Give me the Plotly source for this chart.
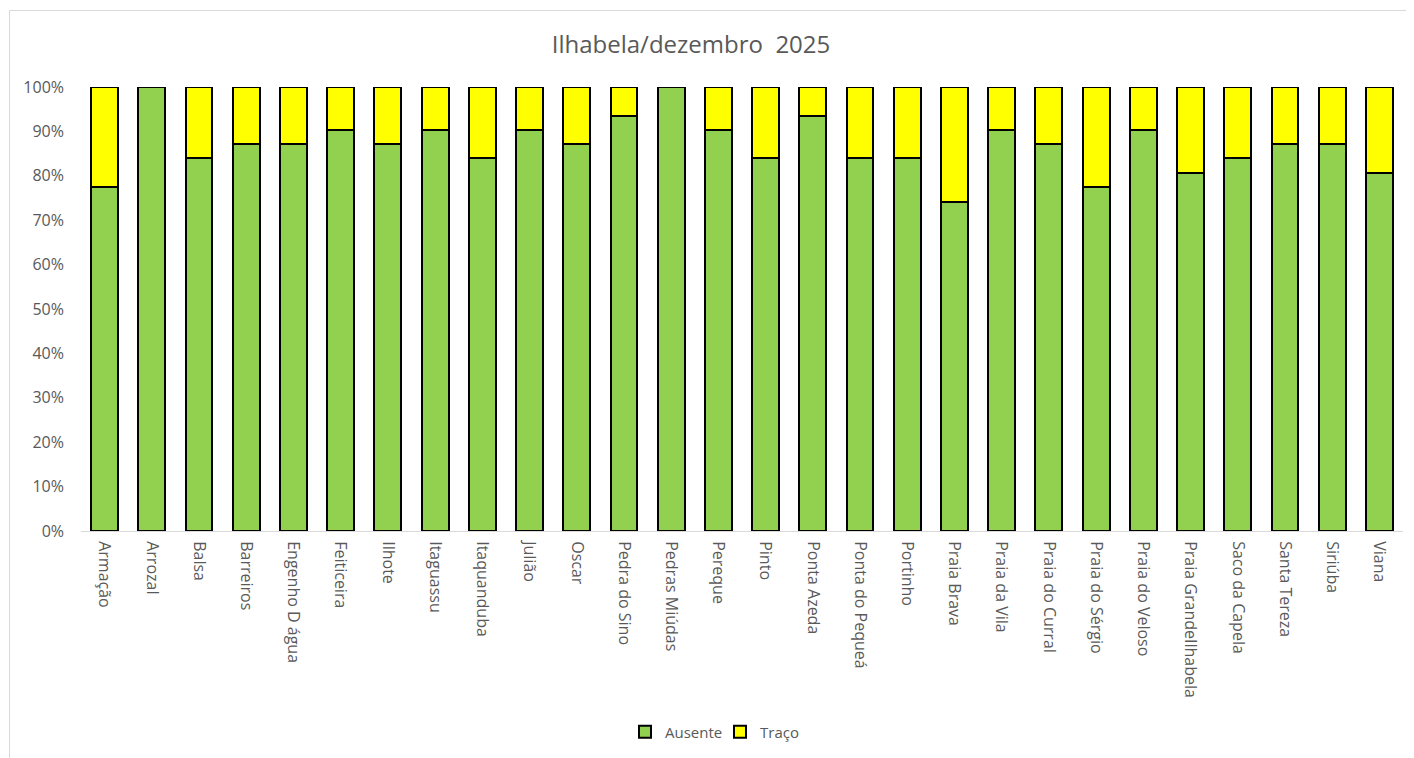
import plotly.graph_objects as go

categories = ["Armação", "Arrozal", "Balsa", "Barreiros", "Engenho D água", "Feiticeira",
              "Ilhote", "Itaguassu", "Itaquanduba", "Julião", "Oscar", "Pedra do Sino",
              "Pedras Miúdas", "Pereque", "Pinto", "Ponta Azeda", "Ponta do Pequeá",
              "Portinho", "Praia Brava", "Praia da Vila", "Praia do Curral", "Praia do Sérgio",
              "Praia do Veloso", "Praia GrandeIlhabela", "Saco da Capela", "Santa Tereza",
              "Siriúba", "Viana"]

ausente = [77.4, 100.0, 83.9, 87.1, 87.1, 90.3, 87.1, 90.3, 83.9, 90.3, 87.1, 93.5,
           100.0, 90.3, 83.9, 93.5, 83.9, 83.9, 74.2, 90.3, 87.1, 77.4, 90.3, 80.6,
           83.9, 87.1, 87.1, 80.6]
traco = [22.6, 0.0, 16.1, 12.9, 12.9, 9.7, 12.9, 9.7, 16.1, 9.7, 12.9, 6.5,
         0.0, 9.7, 16.1, 6.5, 16.1, 16.1, 25.8, 9.7, 12.9, 22.6, 9.7, 19.4,
         16.1, 12.9, 12.9, 19.4]

yticks = [0, 10, 20, 30, 40, 50, 60, 70, 80, 90, 100]
yticklabels = ["0%", "10%", "20%", "30%", "40%", "50%", "60%", "70%", "80%", "90%", "100%"]

FONT = "Open Sans"
GRAY = "#595959"

fig = go.Figure()
fig.add_trace(go.Bar(x=categories, y=ausente, name="Ausente",
                     marker=dict(color="#92d050", line=dict(color="#000000", width=2))))
fig.add_trace(go.Bar(x=categories, y=traco, name="Traço",
                     marker=dict(color="#ffff00", line=dict(color="#000000", width=2))))

OFF = 8  # page body margin
W, H = 1414 - OFF, 758 - OFF
L, T = 81 - OFF, 87 - OFF
plot_bottom = 531 - OFF
plot_right = 1403 - OFF
B = H - plot_bottom
R = W - plot_right
pw, ph = W - L - R, H - T - B

def px(x):
    return (x - OFF - L) / pw

def py(y):
    return (plot_bottom - (y - OFF)) / ph

fig.update_layout(
    width=W, height=H,
    barmode="stack", bargap=0.43,
    margin=dict(l=L, r=R, t=T, b=B, autoexpand=False),
    paper_bgcolor="white", plot_bgcolor="white",
    font=dict(family=FONT, color=GRAY, size=15),
    title=dict(text="Ilhabela/dezembro\u00a0 2025", x=px(691), xanchor="center",
               xref="paper", y=1 - (45 - OFF) / H, yref="container", yanchor="middle",
               font=dict(size=24, color=GRAY, family=FONT)),
    xaxis=dict(tickangle=90, showgrid=False, showline=True, linecolor="#d9d9d9",
               linewidth=1, ticks="", ticklabelstandoff=6,
               tickfont=dict(size=16, color=GRAY)),
    yaxis=dict(range=[0, 100], tickmode="array", tickvals=yticks, ticktext=yticklabels,
               showgrid=False, zeroline=False, showline=False, ticks="",
               ticklabelstandoff=16, tickfont=dict(size=16, color=GRAY)),
    legend=dict(orientation="h", x=px(720), xanchor="center", y=py(732),
                yanchor="middle", font=dict(size=15, color=GRAY),
                traceorder="normal", itemwidth=30, entrywidth=50),
    shapes=[dict(type="rect", xref="paper", yref="paper",
                 x0=px(9.5), x1=px(1409.5), y0=py(800), y1=py(10.5),
                 line=dict(color="#d9d9d9", width=1), fillcolor="rgba(0,0,0,0)",
                 layer="below")],
)

fig.write_html("out.html")
